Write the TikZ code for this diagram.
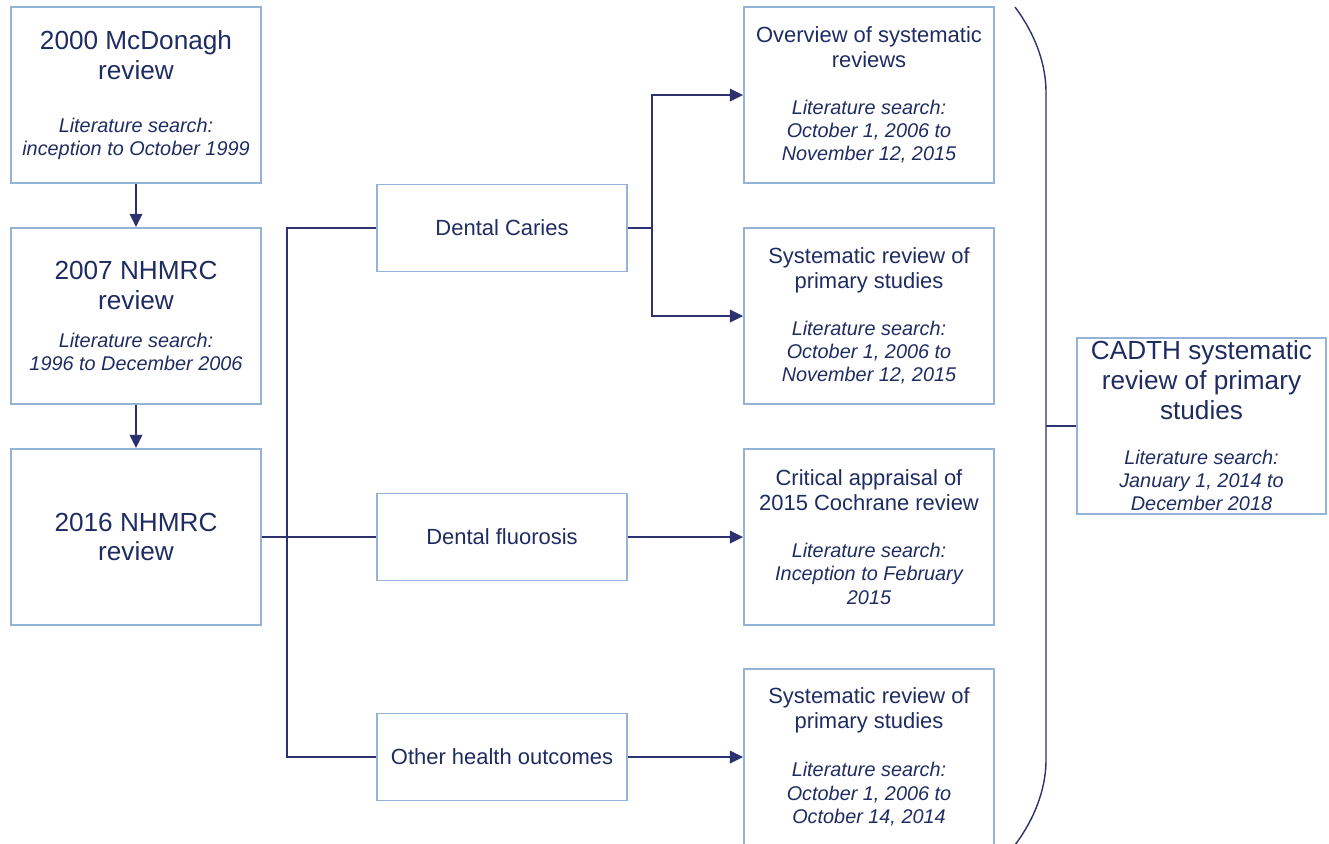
\documentclass[tikz,border=0pt]{standalone}
\usepackage{fontspec}
\setmainfont{Liberation Sans}
\usepackage{tikz}
\usetikzlibrary{arrows.meta}
\definecolor{frame}{HTML}{95B3D7}
\definecolor{ink}{HTML}{1F2C62}
\definecolor{wire}{HTML}{2E3170}
% italic search-period lines under a box title
\newcommand{\search}[2]{\par\vspace{#1}%
  {\fontsize{11.3}{13.3}\selectfont\itshape\spaceskip=\fontdimen2\font\relax
   Literature search:\\#2\par}}

\begin{document}
\begin{tikzpicture}[
  x=0.02cm, y=-0.02cm,
  >={Triangle[length=7.5pt,width=7pt]},
  box/.style={draw=frame, line width=1pt, align=center, text=ink,
    inner sep=1pt, minimum width=5cm, text width=4.9cm,
    execute at begin node={\spaceskip=\fontdimen2\font\relax}},
  review/.style={box, minimum height=3.52cm,
    font=\fontsize{14.9}{17}\selectfont},
  topic/.style={box, minimum height=1.74cm,
    font=\fontsize{12.5}{14.2}\selectfont},
  study/.style={box, minimum height=3.52cm,
    font=\fontsize{12.5}{14.2}\selectfont},
  arr/.style={->, line width=1.4pt, draw=wire},
  link/.style={line width=1.4pt, draw=wire}
]
\useasboundingbox (0,0) rectangle (1329,843);
\node[review] (mcdonagh) at (136,95)
  {2000 McDonagh\\review\search{17pt}{inception to October 1999}};
\node[review] (nhmrc07) at (136,316)
  {2007 NHMRC\\review\search{8pt}{1996 to December 2006}};
\node[review] (nhmrc16) at (136,537) {2016 NHMRC\\review};
\node[topic] (caries) at (502,228) {Dental Caries};
\node[topic] (fluorosis) at (502,537) {Dental fluorosis};
\node[topic] (other) at (502,757) {Other health outcomes};
\node[study] (overview) at (869,95)
  {Overview of systematic\\reviews\search{13.4pt}{October 1, 2006 to\\November 12, 2015}};
\node[study] (sysrev) at (869,316)
  {Systematic review of\\primary studies\search{13.4pt}{October 1, 2006 to\\November 12, 2015}};
\node[study] (appraisal) at (869,537)
  {Critical appraisal of\\2015 Cochrane review\search{13.4pt}{Inception to February\\2015}};
\node[study] (sysrevother) at (869,757)
  {Systematic review of\\primary studies\search{14pt}{October 1, 2006 to\\October 14, 2014}};
\node[review, minimum width=4.98cm] (cadth) at (1201.5,426)
  {CADTH systematic\\review of primary\\studies\search{12pt}{January 1, 2014 to\\December 2018}};
\draw[arr] (mcdonagh) -- (nhmrc07);
\draw[arr] (nhmrc07) -- (nhmrc16);
\draw[link] (nhmrc16.east) -- (fluorosis.west);
\draw[link] (nhmrc16.east) -- ++(25,0) |- (caries.west);
\draw[link] (nhmrc16.east) -- ++(25,0) |- (other.west);
\draw[arr] (caries.east) -- ++(24,0) |- (overview.west);
\draw[arr] (caries.east) -- ++(24,0) |- (sysrev.west);
\draw[arr] (fluorosis) -- (appraisal);
\draw[arr] (other) -- (sysrevother);
% closing bracket gathering the four reviews
\draw[wire, line width=0.8pt] (1015,7) .. controls (1038,38) and (1046,68) .. (1046,92)
  -- (1046,426) coordinate (brace) -- (1046,760)
  .. controls (1046,784) and (1038,814) .. (1015,845);
\draw[wire, line width=0.8pt] (brace) -- (cadth.west);
\end{tikzpicture}
\end{document}
